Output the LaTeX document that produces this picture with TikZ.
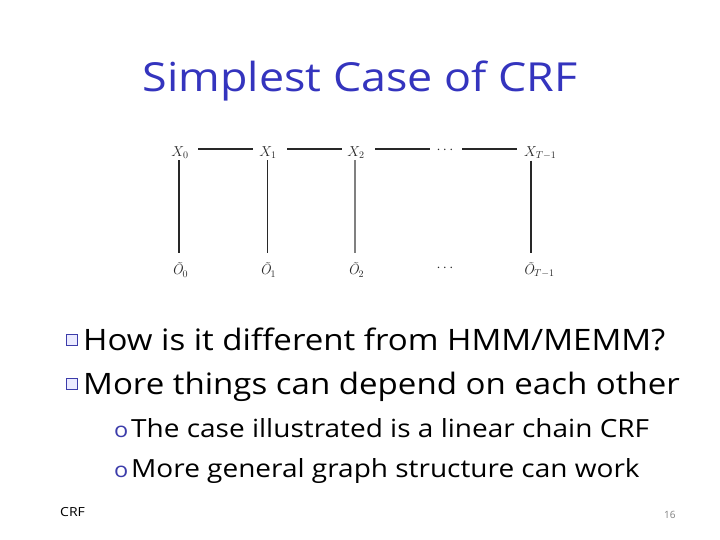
\documentclass[tikz,border=0pt]{standalone}
\usepackage{fontspec}
\setmainfont[FakeStretch=1.12]{Open Sans}
\newfontfamily\plainsans{Open Sans}
\newfontfamily\lmfont{Latin Modern Roman}
\newcommand{\tO}[1]{{\lmfont\itshape Õ}$_{#1}$}
\definecolor{titleblue}{RGB}{52,52,190}
\definecolor{bulletblue}{RGB}{60,60,170}
\definecolor{graphgray}{RGB}{40,40,40}
\begin{document}
\begin{tikzpicture}[x=1pt,y=-1pt,
  gnode/.style={inner sep=1pt,text=graphgray,font=\fontsize{14.5}{14.5}\selectfont},
  gline/.style={draw=graphgray,line width=1.1pt},
  mainbullet/.style={draw=bulletblue,fill=blue!8,line width=1.2pt,minimum size=10.5pt,inner sep=0pt},
  bigtext/.style={anchor=base west,inner sep=0pt,font=\fontsize{29.5}{29.5}\selectfont},
  subtext/.style={anchor=base west,inner sep=0pt,font=\fontsize{25}{25}\selectfont},
  subbullet/.style={anchor=base west,inner sep=0pt,text=bulletblue,font=\fontsize{21}{21}\selectfont}]
\useasboundingbox (0,0) rectangle (720,540);
\fill[white] (0,0) rectangle (720,540);
% title
\node[text=titleblue,font=\fontsize{40}{40}\selectfont,anchor=base] (title) at (360,92) {Simplest Case of CRF};
% graph
\node[gnode] (x0) at (180,153) {$X_0$};
\node[gnode] (x1) at (268,153) {$X_1$};
\node[gnode] (x2) at (356,153) {$X_2$};
\node[gnode] (xd) at (445,150) {$\cdots$};
\node[gnode,anchor=west] (xt) at (523,153) {$X_{T-1}$};
\node[gnode] (o0) at (180,270) {\tO{0}};
\node[gnode] (o1) at (268,270) {\tO{1}};
\node[gnode] (o2) at (356,270) {\tO{2}};
\node[gnode] (od) at (445,268) {$\cdots$};
\node[gnode,anchor=west] (ot) at (522,270) {\tO{T-1}};
\draw[gline] (198,149) -- (253,149);
\draw[gline] (287,149) -- (342,149);
\draw[gline] (375,149) -- (430,149);
\draw[gline] (462,149) -- (517,149);
\draw[gline] ([xshift=-1pt]x0.south) -- ([xshift=-1pt]x0.south |- 0,253);
\draw[gline,line width=0.7pt] ([xshift=-1pt]x1.south) -- ([xshift=-1pt]x1.south |- 0,253);
\draw[gline,draw=gray] ([xshift=-1pt]x2.south) -- ([xshift=-1pt]x2.south |- 0,253);
\draw[gline] ([xshift=8pt]xt.south west) -- ([xshift=8pt]xt.south west |- 0,253);
% bullets
\node[mainbullet] (b1) at (72,340) {};
\node[bigtext] (t1) at (83,350) {How is it different from HMM/MEMM?};
\node[mainbullet] (b2) at (72,384) {};
\node[bigtext] (t2) at (83,394) {More things can depend on each other};
\node[subbullet] (s1) at (114,437) {o};
\node[subtext] (t3) at (131,437) {The case illustrated is a linear chain CRF};
\node[subbullet] (s2) at (114,477) {o};
\node[subtext] (t4) at (131,477) {More general graph structure can work};
% footer
\node[anchor=base west,inner sep=0pt,font=\fontsize{12.5}{12.5}\selectfont] (foot) at (60,516) {CRF};
\node[anchor=base west,inner sep=0pt,text=gray,font=\plainsans\fontsize{10}{10}\selectfont] (pg) at (664,518) {16};
\end{tikzpicture}
\end{document}
